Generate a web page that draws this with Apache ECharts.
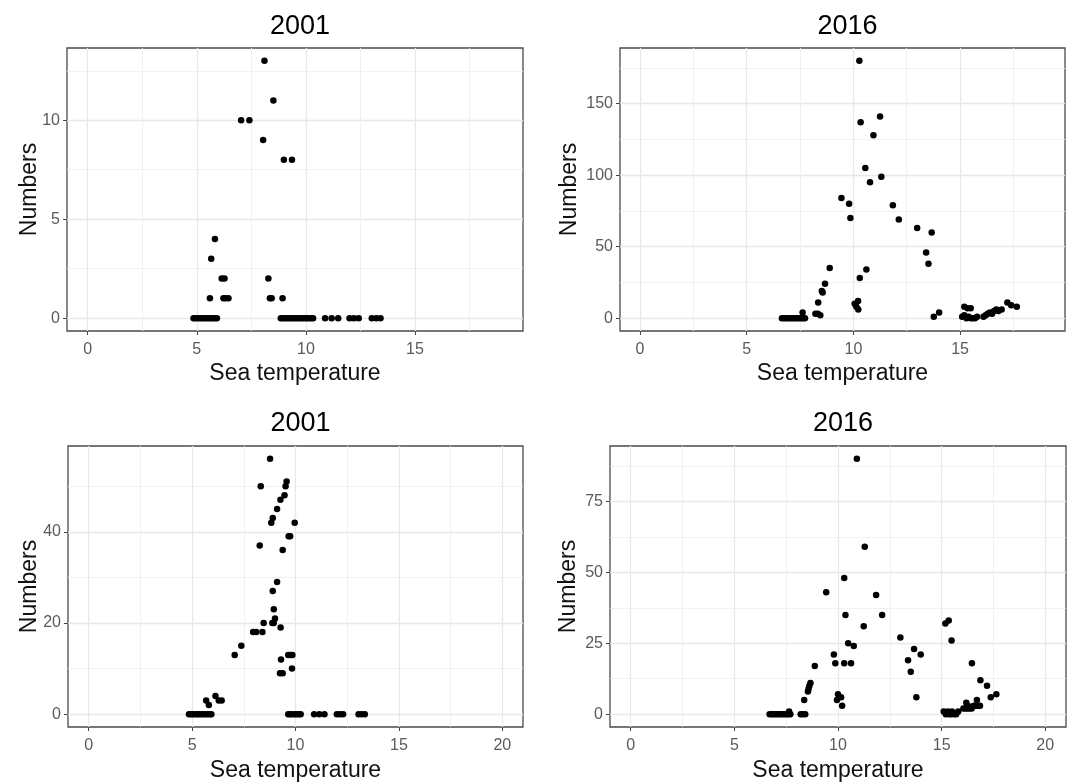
<!DOCTYPE html>
<html>
<head>
<meta charset="utf-8">
<script src="https://cdn.jsdelivr.net/npm/echarts@6/dist/echarts.min.js"></script>
<style>
html,body{margin:0;padding:0;background:#fff;}
#chart{width:1074px;height:783px;}
</style>
</head>
<body>
<div id="chart"></div>
<script>
// ---- Data ----
const panelTitles = ['2001', '2016', '2001', '2016'];
const xAxisName = 'Sea temperature';
const yAxisName = 'Numbers';

const xTicksTop = [0, 5, 10, 15];
const xTicksBottom = [0, 5, 10, 15, 20];
const xMinorTicks = [2.5, 7.5, 12.5, 17.5];

const yTicks1 = [0, 5, 10];
const yMinor1 = [2.5, 7.5, 12.5];
const yTicks2 = [0, 50, 100, 150];
const yMinor2 = [25, 75, 125, 175];
const yTicks3 = [0, 20, 40];
const yMinor3 = [10, 30, 50];
const yTicks4 = [0, 25, 50, 75];
const yMinor4 = [12.5, 37.5, 62.5, 87.5];

// Panel 1: 2001 (top)
const temp2001a = [4.85,4.95,5.05,5.15,5.25,5.35,5.45,5.55,5.65,5.75,5.85,5.92,
  8.85,8.95,9.05,9.15,9.25,9.35,9.45,9.55,9.65,9.75,9.85,9.95,10.05,10.15,10.25,10.33,
  10.88,11.18,11.48,12.0,12.2,12.42,13.02,13.23,13.42,
  5.6,6.22,6.32,6.45,8.35,8.43,8.93,
  6.14,6.27,8.28,
  5.66,5.83,
  7.03,7.41,8.04,8.99,9.36,8.10,8.51];
const num2001a = [0,0,0,0,0,0,0,0,0,0,0,0,
  0,0,0,0,0,0,0,0,0,0,0,0,0,0,0,0,
  0,0,0,0,0,0,0,0,0,
  1,1,1,1,1,1,1,
  2,2,2,
  3,4,
  10,10,9,8,8,13,11];

// Panel 2: 2016 (top)
const temp2016a = [6.65,6.75,6.85,6.95,7.05,7.15,7.25,7.35,7.45,7.55,7.65,7.73,
  7.62,8.22,8.33,8.45,8.35,8.52,8.56,8.67,8.89,
  9.44,9.80,9.86,10.06,10.14,10.22,10.23,
  10.28,10.30,10.34,10.56,10.61,10.78,10.94,11.25,11.31,11.85,12.13,12.99,13.41,13.52,13.67,13.77,14.02,
  15.2,15.35,15.5,
  15.1,15.2,15.3,15.4,15.5,15.6,15.7,15.8,
  16.1,16.2,16.3,16.4,16.5,16.6,16.7,16.8,16.95,
  17.22,17.4,17.66];
const num2016a = [0,0,0,0,0,0,0,0,0,0,0,0,
  4,3,3,2,11,19,18,24,35,
  84,80,70,10,8,12,6,
  180,28,137,105,34,95,128,141,99,79,69,63,46,38,60,1,4,
  8,7,7,
  1,2,0,1,0,0,0,1,
  1,2,3,4,3,5,6,5,6,
  11,9,8];

// Panel 3: 2001 (bottom)
const temp2001b = [4.85,4.95,5.05,5.15,5.25,5.35,5.45,5.55,5.65,5.75,5.85,5.93,
  9.65,9.75,9.85,9.95,10.05,10.15,10.25,
  10.9,11.15,11.4,12.0,12.15,12.3,13.05,13.2,13.35,
  5.68,5.81,6.13,6.29,6.43,
  7.06,7.38,7.95,8.1,8.4,
  8.27,8.32,8.46,
  8.77,8.83,8.90,8.88,8.90,8.95,8.95,9.01,
  9.11,9.11,9.27,9.3,9.25,9.38,9.28,9.38,
  9.47,9.52,9.57,
  9.65,9.75,9.85,9.83,
  9.67,9.74,9.96];
const num2001b = [0,0,0,0,0,0,0,0,0,0,0,0,
  0,0,0,0,0,0,0,
  0,0,0,0,0,0,0,0,0,
  3,2,4,3,3,
  13,15,18,18,18,
  37,50,20,
  56,42,43,20,27,23,20,21,
  45,29,47,12,9,9,19,36,
  48,50,51,
  13,13,13,10,
  39,39,42];

// Panel 4: 2016 (bottom)
const temp2016b = [6.7,6.8,6.9,7.0,7.1,7.2,7.3,7.4,7.5,7.6,7.7,
  7.64,8.2,8.3,8.42,
  8.37,8.55,8.58,8.62,8.67,8.88,
  9.43,9.8,9.87,9.95,10.0,10.15,10.2,10.3,10.3,10.36,10.49,10.63,10.76,10.91,11.24,11.29,11.84,12.13,13.01,13.38,13.51,13.67,13.78,13.99,
  15.1,15.2,15.3,15.35,15.45,15.5,15.6,15.7,15.8,
  15.18,15.34,15.48,
  16.05,16.15,16.25,16.35,16.45,16.55,16.65,16.75,16.85,
  16.19,16.27,16.7,
  16.46,16.87,17.19,17.37,17.64];
const num2016b = [0,0,0,0,0,0,0,0,0,0,0,
  1,0,0,0,
  5,8,9,10,11,17,
  43,21,18,5,7,6,3,18,48,35,25,18,24,90,31,59,42,35,27,19,15,23,6,21,
  1,0,1,0,0,1,0,0,1,
  32,33,26,
  2,2,2,2,2,3,3,3,3,
  4,3,5,
  18,12,10,6,7];

// ---- Chart ----
const FONT = '"Liberation Sans", Arial, sans-serif';
const zip = (xs, ys) => xs.map((x, i) => [x, ys[i]]);

const panels = [
  {grid:{left:67, top:48, width:456, height:283}, xr:[-0.95,19.95], xt:xTicksTop, yr:[-0.65,13.65], yt:yTicks1, ym:yMinor1, data:zip(temp2001a,num2001a), title:panelTitles[0], tTop:8, nameGapX:31, nameGapY:26},
  {grid:{left:620, top:48, width:445, height:283}, xr:[-0.94,19.92], xt:xTicksTop, yr:[-9,189], yt:yTicks2, ym:yMinor2, data:zip(temp2016a,num2016a), title:panelTitles[1], tTop:8, nameGapX:31, nameGapY:39},
  {grid:{left:68, top:446, width:455, height:282}, xr:[-1,21], xt:xTicksBottom, yr:[-2.8,58.8], yt:yTicks3, ym:yMinor3, data:zip(temp2001b,num2001b), title:panelTitles[2], tTop:405, nameGapX:32, nameGapY:27},
  {grid:{left:610, top:446, width:456, height:282}, xr:[-1,21], xt:xTicksBottom, yr:[-4.5,94.5], yt:yTicks4, ym:yMinor4, data:zip(temp2016b,num2016b), title:panelTitles[3], tTop:405, nameGapX:32, nameGapY:30}
];

const option = {
  backgroundColor: '#fff',
  animation: false,
  title: [], grid: [], xAxis: [], yAxis: [], series: []
};

panels.forEach((p, i) => {
  option.grid.push(Object.assign({show:true, borderColor:'#4a4a4a', borderWidth:1.3, backgroundColor:'#fff', containLabel:false}, p.grid));
  option.title.push({
    text: p.title, left: p.grid.left + p.grid.width/2, top: p.tTop, textAlign: 'center',
    textStyle: {fontSize: 27, fontWeight: 'normal', color: '#000', fontFamily: FONT}
  });
  // major x
  option.xAxis.push({
    type:'value', gridIndex:i, min:p.xr[0], max:p.xr[1], position:'bottom',
    name: xAxisName, nameLocation:'middle', nameGap:p.nameGapX, nameMoveOverlap:false,
    nameTextStyle:{fontSize:23, color:'#111', fontFamily:FONT},
    axisLine:{show:false, onZero:false},
    axisTick:{show:true, length:4, lineStyle:{color:'#444', width:1}, customValues:p.xt},
    axisLabel:{show:true, margin:11, fontSize:16, color:'#5a5a5a', fontFamily:FONT, customValues:p.xt},
    splitLine:{show:true, lineStyle:{color:'#e8e8e8', width:1.3}}
  });
  // minor x
  option.xAxis.push({
    type:'value', gridIndex:i, min:p.xr[0], max:p.xr[1], position:'bottom',
    axisLine:{show:false, onZero:false},
    axisTick:{show:false, customValues:xMinorTicks},
    axisLabel:{show:false, customValues:xMinorTicks},
    splitLine:{show:true, lineStyle:{color:'#efefef', width:0.9}}
  });
  // major y
  option.yAxis.push({
    type:'value', gridIndex:i, min:p.yr[0], max:p.yr[1], position:'left',
    name: yAxisName, nameLocation:'middle', nameGap:p.nameGapY, nameRotate:90, nameMoveOverlap:false,
    nameTextStyle:{fontSize:23, color:'#111', fontFamily:FONT},
    axisLine:{show:false, onZero:false},
    axisTick:{show:true, length:4, lineStyle:{color:'#444', width:1}, customValues:p.yt},
    axisLabel:{show:true, margin:7, fontSize:16, color:'#5a5a5a', fontFamily:FONT, customValues:p.yt},
    splitLine:{show:true, lineStyle:{color:'#e8e8e8', width:1.3}}
  });
  // minor y
  option.yAxis.push({
    type:'value', gridIndex:i, min:p.yr[0], max:p.yr[1], position:'left',
    axisLine:{show:false, onZero:false},
    axisTick:{show:false, customValues:p.ym},
    axisLabel:{show:false, customValues:p.ym},
    splitLine:{show:true, lineStyle:{color:'#efefef', width:0.9}}
  });
  option.series.push({
    type:'scatter', xAxisIndex:2*i, yAxisIndex:2*i, data:p.data,
    symbol:'circle', symbolSize:6.5, itemStyle:{color:'#000', opacity:1}, z:5
  });
});

const chart = echarts.init(document.getElementById('chart'), null, {renderer:'canvas'});
chart.setOption(option);
</script>
</body>
</html>
